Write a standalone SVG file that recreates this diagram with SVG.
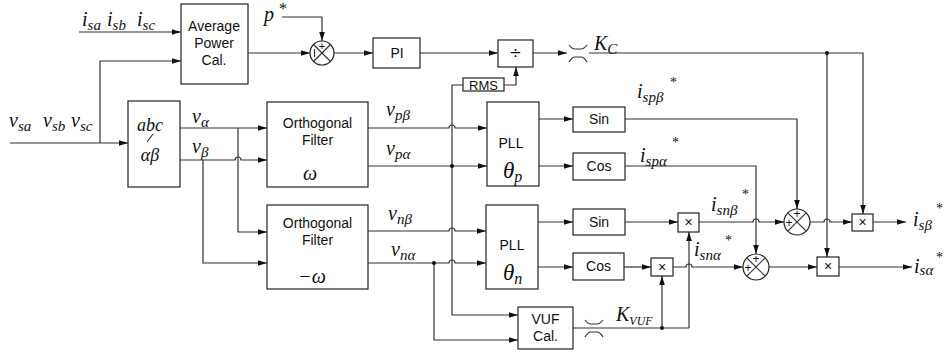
<svg xmlns="http://www.w3.org/2000/svg" width="945" height="358" viewBox="0 0 945 358">
<style>
.box{fill:#fff;stroke:#222;stroke-width:1.2}
.w{stroke:#333;stroke-width:1.2;fill:none}
.wa{stroke:#333;stroke-width:1.2;fill:none;marker-end:url(#ah)}
.t{font-family:"Liberation Sans",Arial,sans-serif;font-size:14px;fill:#111;text-anchor:middle}
.m{font-family:"Liberation Serif","Times New Roman",serif;font-style:italic;font-size:20px;fill:#111}
.s{font-size:15px}
.ast{font-style:normal;font-size:14px}
.pl{font-family:"Liberation Sans",Arial,sans-serif;font-size:12px;fill:#111;text-anchor:middle}
.dot{fill:#111}
</style>
<defs>
<marker id="ah" markerWidth="10" markerHeight="8" refX="9" refY="4" orient="auto" markerUnits="userSpaceOnUse">
<path d="M0,1.2 L9,4 L0,6.8 z" fill="#111"/>
</marker>
</defs>

<g id="connectors">
<path class="wa" d="M79,32 H181"/>
<path class="wa" d="M10,143 H128"/>
<path class="wa" d="M100,143 V61 H181"/>
<path class="wa" d="M248,53 H310"/>
<path class="wa" d="M282,17 H322 V41"/>
<path class="wa" d="M334,53 H373"/>
<path class="wa" d="M420,53 H498"/>
<path class="wa" d="M533,53 H567"/>
<path class="w" d="M569,45 Q572,49 575,49 H581 Q584,49 587,45"/>
<path class="w" d="M569,62 Q572,57 575,57 H581 Q584,57 587,62"/>
<path class="wa" d="M589,53 H863 V214"/>
<path class="wa" d="M827,53 V257"/>
<path class="wa" d="M463,85 H452 V315 H518"/>
<path class="wa" d="M504,85 H516 V67"/>
<path class="wa" d="M180,128 H267"/>
<path class="wa" d="M238,128 V232 H267"/>
<path class="wa" d="M180,160 H235 A3,3 0 0 1 241,160 H267"/>
<path class="wa" d="M203,160 V263 H267"/>
<path class="wa" d="M368,128 H449 A3,3 0 0 1 455,128 H487"/>
<path class="wa" d="M368,166 H487"/>
<path class="wa" d="M368,231 H449 A3,3 0 0 1 455,231 H486"/>
<path class="wa" d="M368,263 H449 A3,3 0 0 1 455,263 H486"/>
<path class="wa" d="M434,263 V340 H518"/>
<path class="wa" d="M539,119 H573"/>
<path class="wa" d="M539,166 H573"/>
<path class="wa" d="M538,222 H573"/>
<path class="wa" d="M538,267 H573"/>
<path class="wa" d="M625,119 H797 V209"/>
<path class="wa" d="M625,166 H756 V254"/>
<path class="wa" d="M625,222 H678"/>
<path class="wa" d="M699,222 H753 A3,3 0 0 1 759,222 H784"/>
<path class="wa" d="M810,222 H824 A3,3 0 0 1 830,222 H852"/>
<path class="wa" d="M873,222 H906"/>
<path class="wa" d="M624,267 H651"/>
<path class="wa" d="M673,267 H686 A3,3 0 0 1 692,267 H743"/>
<path class="wa" d="M769,267 H817"/>
<path class="wa" d="M839,267 H912"/>
<path class="w" d="M573,328 H689"/>
<path class="w" d="M585,320 Q588,324 591,324 H597 Q600,324 603,320"/>
<path class="w" d="M585,337 Q588,332 591,332 H597 Q600,332 603,337"/>
<path class="wa" d="M689,328 V232"/>
<path class="wa" d="M662,328 V276"/>
<circle class="dot" cx="827" cy="53" r="2"/>
<circle class="dot" cx="452" cy="166" r="2"/>
<circle class="dot" cx="434" cy="263" r="2"/>
<circle class="dot" cx="662" cy="328" r="2"/>
</g>

<g id="labels">
<text class="m" x="82" y="26">i<tspan class="s" dy="4">sa</tspan><tspan x="107" dy="-4">i</tspan><tspan class="s" dy="4">sb</tspan><tspan x="137" dy="-4">i</tspan><tspan class="s" dy="4">sc</tspan></text>
<text class="m" x="264" y="21">p</text>
<text class="m ast" x="279" y="14" style="font-size:16px">*</text>
<text class="m" x="9" y="127">v<tspan class="s" dy="4">sa</tspan><tspan x="43" dy="-4">v</tspan><tspan class="s" dy="4">sb</tspan><tspan x="71" dy="-4">v</tspan><tspan class="s" dy="4">sc</tspan></text>
<text class="m" x="192" y="123">v<tspan class="s" dy="4">α</tspan></text>
<text class="m" x="192" y="153">v<tspan class="s" dy="4">β</tspan></text>
<text class="m" x="386" y="116">v<tspan class="s" dy="4">pβ</tspan></text>
<text class="m" x="386" y="155">v<tspan class="s" dy="4">pα</tspan></text>
<text class="m" x="388" y="220">v<tspan class="s" dy="4">nβ</tspan></text>
<text class="m" x="391" y="256">v<tspan class="s" dy="4">nα</tspan></text>
<text class="m" x="594" y="50">K<tspan class="s" dy="4">C</tspan></text>
<text class="m" x="616" y="321">K<tspan style="font-size:12px" dy="4">VUF</tspan></text>
<text class="m" x="637" y="98">i<tspan class="s" dy="4">spβ</tspan><tspan class="ast" x="670" dy="-15">*</tspan></text>
<text class="m" x="640" y="162">i<tspan class="s" dy="4">spα</tspan><tspan class="ast" x="672" dy="-19">*</tspan></text>
<text class="m" x="711" y="211">i<tspan class="s" dy="4">snβ</tspan><tspan class="ast" x="742" dy="-16">*</tspan></text>
<text class="m" x="694" y="256">i<tspan class="s" dy="4">snα</tspan><tspan class="ast" x="725" dy="-15">*</tspan></text>
<text class="m" x="913" y="226">i<tspan class="s" dy="4">sβ</tspan><tspan class="ast" x="936" dy="-17">*</tspan></text>
<text class="m" x="914" y="273">i<tspan class="s" dy="2">sα</tspan><tspan class="ast" x="936" dy="-13">*</tspan></text>
</g>

<g id="avg_power">
<rect class="box" x="181" y="4" width="67" height="80"/>
<text class="t" x="214" y="31">Average</text>
<text class="t" x="214" y="48">Power</text>
<text class="t" x="214" y="65">Cal.</text>
</g>

<g id="sum_p">
<circle class="box" cx="322" cy="53" r="12"/>
<path class="w" d="M313.5,44.5 L330.5,61.5 M330.5,44.5 L313.5,61.5"/>
<text class="pl" x="322" y="50" style="font-size:11px">+</text>
<path class="w" d="M314.5,49 V57"/>
</g>

<g id="pi">
<rect class="box" x="373" y="38" width="47" height="30"/>
<text class="t" x="397" y="58">PI</text>
</g>

<g id="divide">
<rect class="box" x="498" y="40" width="35" height="27"/>
<text class="t" x="515.5" y="59" style="font-size:19px">÷</text>
</g>

<g id="rms">
<rect class="box" x="463" y="78" width="41" height="13"/>
<text class="t" x="483.5" y="89.5" style="font-size:13px">RMS</text>
</g>

<g id="abc_ab">
<rect class="box" x="128" y="101" width="52" height="86"/>
<text class="m" x="150" y="131" text-anchor="middle" style="font-size:18px">abc</text>
<path class="w" d="M147,142 L153,134"/>
<text class="m" x="150" y="161" text-anchor="middle" style="font-size:18px">αβ</text>
</g>

<g id="orth_filter_pos">
<rect class="box" x="267" y="102" width="101" height="85"/>
<text class="t" x="317.5" y="128">Orthogonal</text>
<text class="t" x="317.5" y="145">Filter</text>
<text class="m" x="310" y="180" text-anchor="middle">ω</text>
</g>

<g id="orth_filter_neg">
<rect class="box" x="267" y="205" width="101" height="84"/>
<text class="t" x="317.5" y="228">Orthogonal</text>
<text class="t" x="317.5" y="245">Filter</text>
<text class="m" x="312" y="283" text-anchor="middle">−ω</text>
</g>

<g id="pll_p">
<rect class="box" x="487" y="102" width="52" height="84"/>
<text class="t" x="511" y="148">PLL</text>
<text class="m" x="503" y="178" style="font-size:23px">θ<tspan style="font-size:16px" dy="4">p</tspan></text>
</g>

<g id="pll_n">
<rect class="box" x="486" y="205" width="52" height="84"/>
<text class="t" x="512" y="250">PLL</text>
<text class="m" x="503" y="280" style="font-size:23px">θ<tspan style="font-size:16px" dy="4">n</tspan></text>
</g>

<g id="sin_p">
<rect class="box" x="573" y="107" width="52" height="25"/>
<text class="t" x="599" y="124">Sin</text>
</g>
<g id="cos_p">
<rect class="box" x="573" y="153" width="52" height="27"/>
<text class="t" x="599" y="171">Cos</text>
</g>
<g id="sin_n">
<rect class="box" x="573" y="209" width="52" height="26"/>
<text class="t" x="599" y="227">Sin</text>
</g>
<g id="cos_n">
<rect class="box" x="573" y="253" width="51" height="27"/>
<text class="t" x="598.5" y="271">Cos</text>
</g>

<g id="mul_nb">
<rect class="box" x="678" y="213" width="21" height="19"/>
<text class="t" x="688.5" y="227">×</text>
</g>
<g id="mul_na">
<rect class="box" x="651" y="258" width="22" height="18"/>
<text class="t" x="662" y="272">×</text>
</g>

<g id="sum_b">
<circle class="box" cx="797" cy="222" r="13"/>
<path class="w" d="M787.8,212.8 L806.2,231.2 M806.2,212.8 L787.8,231.2"/>
<text class="pl" x="797" y="218">+</text>
<text class="pl" x="789" y="227">+</text>
</g>
<g id="sum_a">
<circle class="box" cx="756" cy="267" r="13"/>
<path class="w" d="M746.8,257.8 L765.2,276.2 M765.2,257.8 L746.8,276.2"/>
<text class="pl" x="756" y="263">+</text>
<text class="pl" x="748" y="272">+</text>
</g>

<g id="mul_b">
<rect class="box" x="852" y="214" width="21" height="17"/>
<text class="t" x="862.5" y="227">×</text>
</g>
<g id="mul_a">
<rect class="box" x="817" y="257" width="22" height="19"/>
<text class="t" x="828" y="271">×</text>
</g>

<g id="vuf">
<rect class="box" x="518" y="307" width="55" height="42"/>
<text class="t" x="545.5" y="324">VUF</text>
<text class="t" x="545.5" y="341">Cal.</text>
</g>
</svg>
